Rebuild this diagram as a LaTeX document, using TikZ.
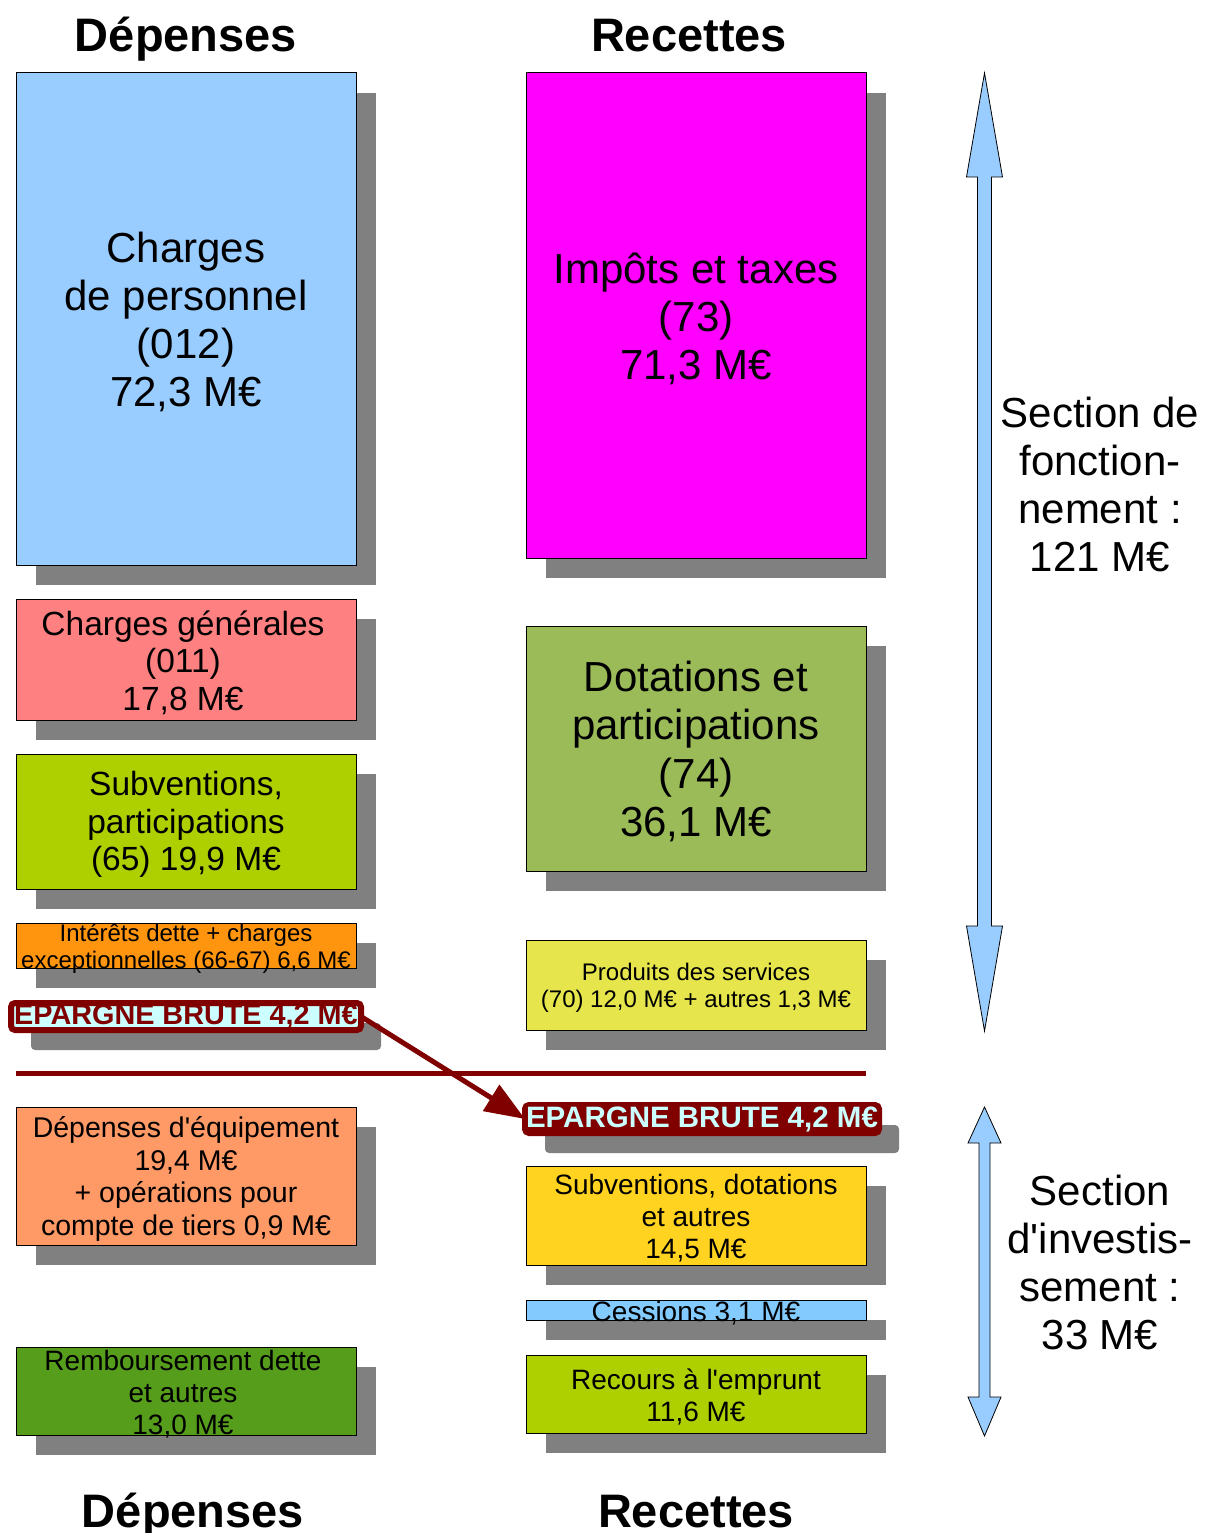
\documentclass[tikz,border=0pt]{standalone}
\usepackage{fontspec}
\setmainfont{Liberation Sans}[Ligatures=TeXOff]
\usetikzlibrary{arrows.meta,shadows}
\definecolor{shd}{HTML}{808080}
\definecolor{dred}{HTML}{800000}
\definecolor{lcyan}{HTML}{CCFFFF}
\definecolor{cPers}{HTML}{99CCFF}
\definecolor{cGen}{HTML}{FF8080}
\definecolor{cSub}{HTML}{AECF00}
\definecolor{cInt}{HTML}{FF950E}
\definecolor{cEq}{HTML}{FF9966}
\definecolor{cRem}{HTML}{579D1C}
\definecolor{cImp}{HTML}{FF00FF}
\definecolor{cDot}{HTML}{9BBB59}
\definecolor{cPro}{HTML}{E6E64C}
\definecolor{cSdo}{HTML}{FFD320}
\definecolor{cCes}{HTML}{83CAFF}
\definecolor{cArr}{HTML}{99CCFF}
\begin{document}
\begin{tikzpicture}[x=1pt,y=-1pt,
  box/.style={draw=black, line width=1pt, inner sep=0pt, outer sep=0pt,
    general shadow={fill=shd, shadow xshift=20pt, shadow yshift=-20pt}},
  lbl/.style={align=center, inner sep=0pt, text=black, yshift=-3pt},
  big/.style={lbl, font=\fontsize{42}{48}\selectfont},
  mid/.style={lbl, font=\fontsize{33.5}{37.5}\selectfont},
  sml/.style={lbl, font=\fontsize{28}{32}\selectfont},
  tiny/.style={lbl, font=\fontsize{24}{27}\selectfont},
  head/.style={anchor=base, inner sep=0pt, font=\fontsize{47}{52}\selectfont\bfseries},
  epar/.style={line width=6pt, draw=dred, rounded corners=4pt, inner sep=0pt, outer sep=0pt,
    minimum height=27pt, font=\fontsize{29.5}{32}\selectfont\bfseries,
    general shadow={fill=shd, shadow xshift=20pt, shadow yshift=-20pt}},
  dblarrow/.style={fill=cArr, draw=black, line width=0.8pt, line join=miter}
]
\useasboundingbox (0,0) rectangle (1206,1533);
\clip (0,0) rectangle (1206,1533);

% headers
\node[head] (hd1) at (186,52) {Dépenses};
\node[head] (hr1) at (689,52) {Recettes};
\node[head] (hd2) at (193,1527) {Dépenses};
\node[head] (hr2) at (696,1527) {Recettes};

% left column
\node[box, fill=cPers, minimum width=340pt, minimum height=492pt] (cp) at (186,319) {};
\node[big] (cpt) at (cp) {Charges\\de personnel\\(012)\\72,3 M€};
\node[box, fill=cGen, minimum width=340pt, minimum height=121pt] (cg) at (186,659.5) {};
\node[mid] (cgt) at ([xshift=-3pt]cg.center) {Charges générales\\(011)\\17,8 M€};
\node[box, fill=cSub, minimum width=340pt, minimum height=135pt] (sub) at (186,821.5) {};
\node[mid] (subt) at (sub) {Subventions,\\participations\\(65) 19,9 M€};
\node[box, fill=cInt, minimum width=340pt, minimum height=45pt] (int) at (186,945.5) {};
\node[tiny] (intt) at (int) {Intérêts dette + charges\\exceptionnelles (66-67) 6,6 M€};
\node[epar, fill=lcyan, text=dred, minimum width=350pt, font=\fontsize{28.8}{32}\selectfont\bfseries] (epl) at (186,1016.5) {EPARGNE BRUTE 4,2 M€};
\node[box, fill=cEq, minimum width=340pt, minimum height=138pt] (deq) at (186,1176) {};
\node[sml, font=\fontsize{28.5}{32.5}\selectfont] (deqt) at (deq) {Dépenses d'équipement\\19,4 M€\\+ opérations pour\\compte de tiers 0,9 M€};
\node[box, fill=cRem, minimum width=340pt, minimum height=88pt] (rem) at (186,1391) {};
\node[sml] (remt) at ([xshift=-3pt]rem.center) {Remboursement dette\\et autres\\13,0 M€};

% right column
\node[box, fill=cImp, minimum width=340pt, minimum height=485pt] (imp) at (696,315.5) {};
\node[big] (impt) at (imp) {Impôts et taxes\\(73)\\71,3 M€};
\node[box, fill=cDot, minimum width=340pt, minimum height=245pt] (dot) at (696,748.5) {};
\node[big, font=\fontsize{42}{48.5}\selectfont] (dott) at (dot) {Dotations et\\participations\\(74)\\36,1 M€};
\node[box, fill=cPro, minimum width=340pt, minimum height=90pt] (pro) at (696,985) {};
\node[tiny] (prot) at (pro) {Produits des services\\(70) 12,0 M€ + autres 1,3 M€};
\node[epar, fill=dred, text=lcyan, minimum width=354pt, minimum height=28pt] (epr) at (702,1119) {EPARGNE BRUTE 4,2 M€};
\node[box, fill=cSdo, minimum width=340pt, minimum height=99pt] (sdo) at (696,1215.5) {};
\node[sml] (sdot) at (sdo) {Subventions, dotations\\et autres\\14,5 M€};
\node[box, fill=cCes, minimum width=340pt, minimum height=20pt] (ces) at (696,1310) {};
\node[sml] (cest) at (ces) {Cessions 3,1 M€};
\node[box, fill=cSub, minimum width=340pt, minimum height=78pt] (rec) at (696,1394) {};
\node[sml] (rect) at (rec) {Recours à l'emprunt\\11,6 M€};

% separator line
\coordinate (sepA) at (16,1073);
\coordinate (sepB) at (866,1073);
\draw[dred, line width=5pt] (sepA) -- (sepB);

% transfer arrow
\draw[dred, line width=5pt, -{Triangle[length=40pt,width=30pt]}] (epl.east) -- (epr.west);

% double arrows
\draw[dblarrow] (984.5,73) -- (1002.5,177) -- (991.5,177) -- (991.5,926) -- (1002.5,926)
  -- (984.5,1031) -- (966.5,926) -- (977.5,926) -- (977.5,177) -- (966.5,177) -- cycle;
\draw[dblarrow] (984.5,1107) -- (1001,1143) -- (990,1143) -- (990,1397) -- (1001,1397)
  -- (984.5,1436) -- (968,1397) -- (979,1397) -- (979,1143) -- (968,1143) -- cycle;

% section labels
\node[big] (secf) at (1100,481) {Section de\\fonction-\\nement :\\121 M€};
\node[big] (seci) at (1100,1259) {Section\\d'investis-\\sement :\\33 M€};
\end{tikzpicture}
\end{document}
